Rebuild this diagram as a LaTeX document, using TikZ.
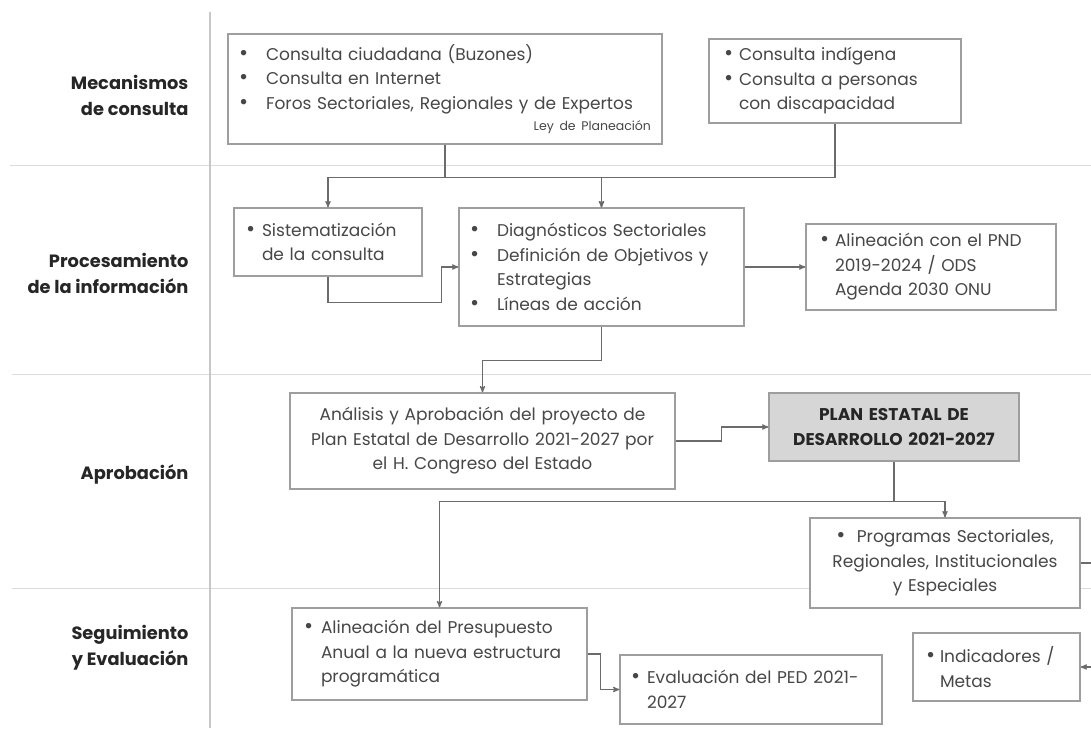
\documentclass[tikz,border=0pt]{standalone}
\usepackage{fontspec}
\setmainfont{Poppins}
\usepackage{xcolor}
\colorlet{colorText}{black!72}
\colorlet{colorLabel}{black!85}
\colorlet{colorBox}{black!38}
\colorlet{colorLink}{black!58}
\colorlet{colorRule}{black!14}
\colorlet{colorPlan}{black!16}
\usepackage{tikz}
\usetikzlibrary{arrows, positioning}
\newcommand{\punto}{\scalebox{1.3}{\textbullet}}
\newcommand{\bul}[1]{\makebox[#1][l]{\punto}}

\begin{document}
\begin{tikzpicture}[x=1pt, y=-1pt, >=stealth', line width=1.2pt,
  caja/.style={draw=colorBox, fill=white, text=colorText, align=left, inner ysep=0pt, font=\fontsize{17}{24.5}\selectfont},
  etapa/.style={anchor=east, align=right, text=colorLabel, inner sep=0pt, font=\fontsize{17.8}{26}\selectfont\bfseries},
  liga/.style={->, draw=colorLink},
  regla/.style={draw=colorRule, line width=1pt}]
\clip (0,0) rectangle (1091,728);
\fill[white] (0,0) rectangle (1091,728);
\draw[regla] (10,165) -- (1091,165);
\draw[regla] (12,374) -- (1091,374);
\draw[regla] (12,588) -- (1091,588);
\draw[regla, draw=black!22, line width=1.6pt] (210,12) -- (210,728);
\node[etapa] (r1) at (189,95) {Mecanismos\\de consulta};
\node[etapa] (r2) at (189,273) {Procesamiento\\de la información};
\node[etapa] (r3) at (189,474) {Aprobación};
\node[etapa] (r4) at (189,648) {Seguimiento\\y Evaluación};
\node[caja, text width=412pt, inner xsep=11pt, minimum height=110pt] (cA) at (445,89) {\bul{27pt}Consulta ciudadana (Buzones)\\\bul{27pt}Consulta en Internet\\\bul{27pt}Foros Sectoriales, Regionales y de Expertos\\[-3pt]\hspace*{\fill}{\fontsize{12.5}{14}\selectfont Ley de Planeación}};
\node[caja, text width=222pt, inner xsep=15pt, minimum height=84pt] (cB) at (835,81) {\bul{15pt}Consulta indígena\\\bul{15pt}Consulta a personas\\\hspace*{15pt}con discapacidad};
\node[caja, text width=164pt, inner xsep=12pt, minimum height=68pt] (cC) at (328,242) {\bul{16pt}Sistematización\\\hspace*{16pt}de la consulta};
\node[caja, text width=263pt, inner xsep=11pt, minimum height=118pt] (cD) at (601.5,267) {\bul{27pt}Diagnósticos Sectoriales\\\bul{27pt}Definición de Objetivos y\\\hspace*{27pt}Estrategias\\\bul{27pt}Líneas de acción};
\node[caja, text width=222pt, inner xsep=14pt, minimum height=86pt] (cE) at (931,267) {\bul{15pt}Alineación con el PND\\\hspace*{15pt}2019-2024 / ODS\\\hspace*{15pt}Agenda 2030 ONU};
\node[caja, align=center, text width=369pt, inner xsep=8pt, minimum height=96pt] (cF) at (482.5,441) {Análisis y Aprobación del proyecto de\\Plan Estatal de Desarrollo 2021-2027 por\\el H. Congreso del Estado};
\node[caja, align=center, text width=234pt, inner xsep=8pt, minimum height=68pt, fill=colorPlan, text=colorLabel, font=\fontsize{17}{24.5}\selectfont\bfseries] (cG) at (894,427) {PLAN ESTATAL DE\\DESARROLLO 2021-2027};
\node[caja, align=center, text width=254pt, inner xsep=8pt, minimum height=90pt] (cH) at (945,563) {\punto\ \ Programas Sectoriales,\\Regionales, Institucionales\\y Especiales};
\node[caja, text width=271pt, inner xsep=12pt, minimum height=92pt] (cI) at (439.5,654) {\bul{17pt}Alineación del Presupuesto\\\hspace*{17pt}Anual a la nueva estructura\\\hspace*{17pt}programática};
\node[caja, text width=240pt, inner xsep=11pt, minimum height=69pt] (cJ) at (751,689.5) {\bul{16pt}Evaluación del PED 2021-\\\hspace*{16pt}2027};
\node[caja, text width=141pt, inner xsep=13pt, minimum height=68pt] (cK) at (996.5,667) {\bul{14pt}Indicadores /\\\hspace*{14pt}Metas};
\draw[liga] (cA.south) -- ++(0,33) -| (cC.north);
\draw[liga] (cA.south) -- ++(0,33) -| (cD.north);
\draw[liga] (cB.south) -- ++(0,54) -| (cD.north);
\draw[liga] (cC.south) -- ++(0,26) -| ([xshift=-17pt]cD.west) -- (cD.west);
\draw[liga] (cD.east) -- (cE.west);
\draw[liga] (cD.south) -- ++(0,34) -| (cF.north);
\draw[liga] (cF.east) -- ++(46,0) |- (cG.west);
\draw[liga] (cG.south) -- ++(0,40) -| (cH.north);
\draw[liga] (cG.south) -- ++(0,40) -| (cI.north);
\draw[liga] (cI.east) -- ++(13,0) |- (cJ.west);
\draw[liga] (cH.east) -- ++(30,0) |- (cK.east);
\end{tikzpicture}
\end{document}
